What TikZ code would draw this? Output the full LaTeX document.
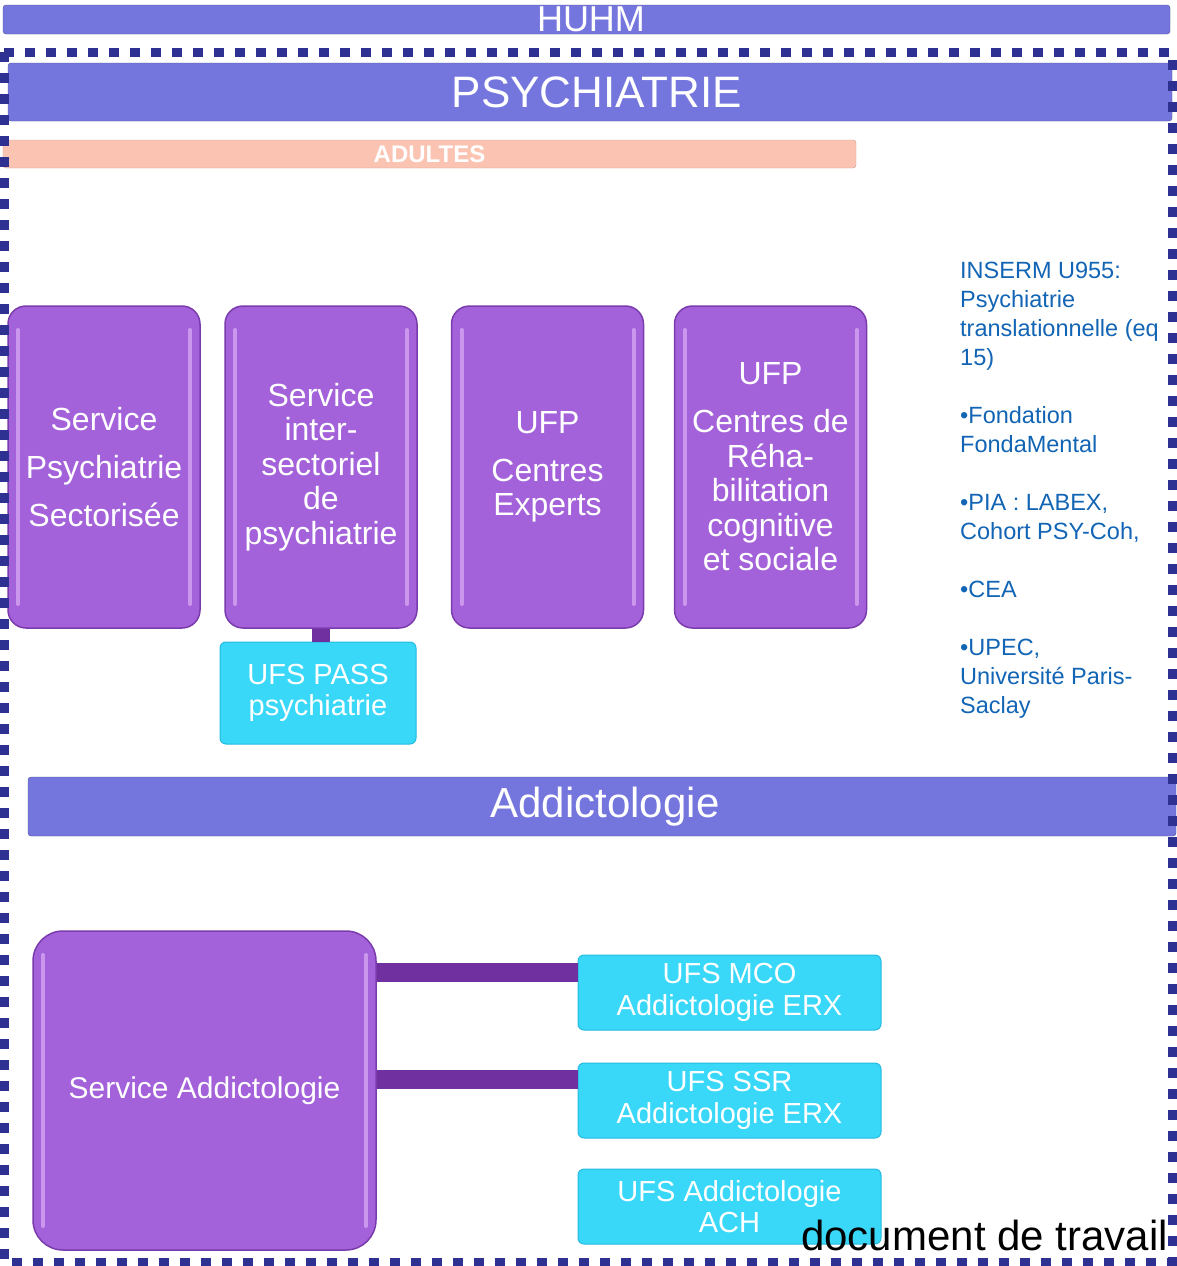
\documentclass[tikz,border=0pt]{standalone}
\usepackage{fontspec}
\setmainfont{Liberation Sans}
\usetikzlibrary{calc}

\definecolor{balkenblau}{RGB}{116,118,222}
\definecolor{lachs}{RGB}{251,196,178}
\definecolor{dienstlila}{RGB}{164,98,218}
\definecolor{dienstrand}{RGB}{122,60,172}
\definecolor{glanz}{RGB}{236,196,252}
\definecolor{verbindunglila}{RGB}{112,48,160}
\definecolor{einheitcyan}{RGB}{58,216,248}
\definecolor{einheitrand}{RGB}{36,186,222}
\definecolor{forschungblau}{RGB}{18,100,180}
\definecolor{rahmenblau}{RGB}{46,49,146}

\tikzset{
  balken/.style={draw=balkenblau!70!black, fill=balkenblau, rounded corners=3pt, text=white, inner sep=0pt},
  dienst/.style={draw=dienstrand, line width=1.5pt, fill=dienstlila, rounded corners=18pt, text=white,
    align=center, inner sep=0pt, font=\fontsize{32}{34.5}\selectfont, minimum width=192pt, minimum height=322pt,
    path picture={
      \draw[glanz, opacity=.55, line width=4pt, line cap=round]
        ([xshift=10pt,yshift=-24pt]path picture bounding box.north west) -- ([xshift=10pt,yshift=24pt]path picture bounding box.south west)
        ([xshift=-10pt,yshift=-24pt]path picture bounding box.north east) -- ([xshift=-10pt,yshift=24pt]path picture bounding box.south east);
    }},
  einheit/.style={draw=einheitrand, line width=1pt, fill=einheitcyan, rounded corners=6pt, text=white,
    align=center, inner sep=0pt, font=\fontsize{29}{31.5}\selectfont},
  verbindung/.style={draw=verbindunglila, line width=19pt},
  rahmen/.style={draw=rahmenblau, line width=9pt, dash pattern=on 10pt off 11pt},
}

\begin{document}
\begin{tikzpicture}[x=1pt,y=-1pt]
  \useasboundingbox (0,0) rectangle (1176,1266);

  % Kopfbalken
  \node[balken, minimum width=1167pt, minimum height=29pt, font=\fontsize{36}{36}\selectfont] (huhm) at (586.5,19.5) {\hspace*{9pt}HUHM};
  \node[balken, minimum width=1164pt, minimum height=58pt, font=\fontsize{44}{44}\selectfont] (psy) at (590,92) {\hspace*{14pt}PSYCHIATRIE};
  \node[balken, draw=lachs!80!black, fill=lachs, minimum width=853pt, minimum height=28pt, font=\bfseries\fontsize{24}{24}\selectfont] (adultes) at (429.5,154) {ADULTES};

  % Dienste Erwachsene
  \node[dienst] (sps) at (104,467) {Service\\[13.5pt]Psychiatrie\\[13.5pt]Sectorisée};
  \node[dienst] (sis) at (321,467) {Service\\inter-\\sectoriel\\de\\psychiatrie};
  \node[dienst] (ufpce) at (547.5,467) {UFP\\[13.5pt]Centres\\Experts};
  \node[dienst] (ufpcr) at (770.5,467) {UFP\\[13.5pt]Centres de\\Réha-\\bilitation\\cognitive\\et sociale};

  % UFS PASS unter dem Service inter-sectoriel
  \node[einheit, minimum width=196pt, minimum height=102pt] (pass) at (318,693) {UFS PASS\\psychiatrie};
  \draw[verbindung, line width=18pt] (sis.south) -- (sis.south |- pass.north);

  % Forschung
  \node[anchor=north west, inner sep=0pt, align=left, text=forschungblau, font=\fontsize{23.5}{29}\selectfont] (forschung) at (960,262)
    {INSERM U955:\\Psychiatrie\\translationnelle (eq\\15)\\[29pt]•Fondation\\FondaMental\\[29pt]•PIA : LABEX,\\Cohort PSY-Coh,\\[29pt]•CEA\\[29pt]•UPEC,\\Université Paris-\\Saclay};

  % Addictologie
  \node[balken, minimum width=1148pt, minimum height=59pt, font=\fontsize{42}{42}\selectfont] (addicto) at (602,806.5) {\hspace*{6pt}Addictologie};

  \node[dienst, minimum width=343pt, minimum height=319pt, rounded corners=30pt, font=\fontsize{30}{32}\selectfont] (sa) at (204.5,1090.5) {Service Addictologie};
  \node[einheit, minimum width=303pt, minimum height=75pt] (mco) at (729.5,992.5) {UFS MCO\\Addictologie ERX};
  \node[einheit, minimum width=303pt, minimum height=75pt] (ssr) at (729.5,1100.5) {UFS SSR\\Addictologie ERX};
  \node[einheit, minimum width=303pt, minimum height=75pt] (ach) at (729.5,1206.5) {UFS Addictologie\\ACH};

  % Verbindungen zu den UFS
  \draw[verbindung] ($(sa.east |- mco.west)+(0,-20.5)$) -- ($(mco.west)+(0,-20.5)$);
  \draw[verbindung] ($(sa.east |- ssr.west)+(0,-21.5)$) -- ($(ssr.west)+(0,-21.5)$);

  % Rahmen
  \draw[rahmen] (4,52) rectangle (1172,1262);

  % Vermerk
  \node[anchor=base east, inner sep=0pt, font=\fontsize{42}{42}\selectfont] (vermerk) at (1168,1250) {document de travail};

\end{tikzpicture}
\end{document}
